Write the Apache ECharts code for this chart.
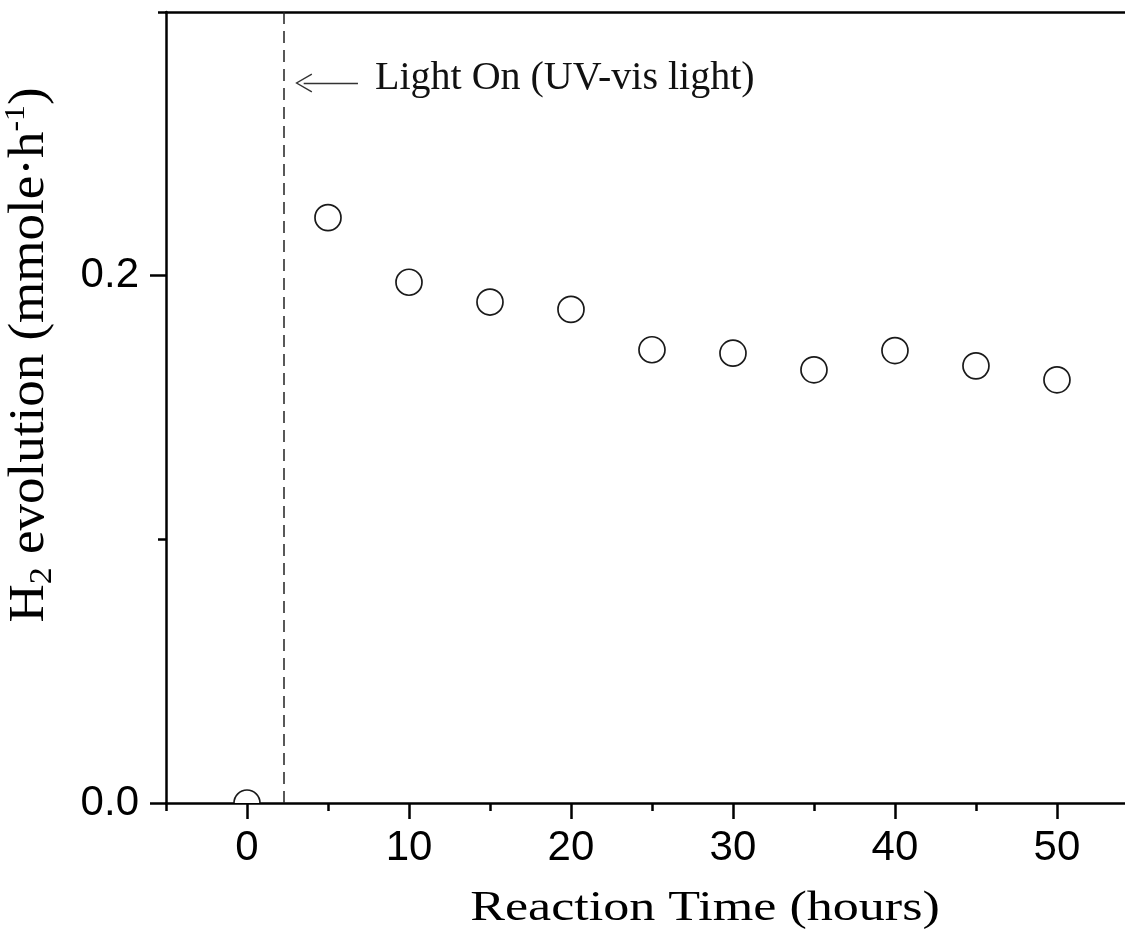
<!DOCTYPE html>
<html>
<head>
<meta charset="utf-8">
<script src="https://cdn.jsdelivr.net/npm/echarts@6/dist/echarts.min.js"></script>
<style>
  html, body { margin: 0; padding: 0; background: #fff; }
  #chart { width: 1125px; height: 943px; }
</style>
</head>
<body>
<div id="chart"></div>
<script>
// Photocatalytic H2 evolution rate over reaction time
const reactionTime = [0, 5, 10, 15, 20, 25, 30, 35, 40, 45, 50];
const h2Evolution = [0, 0.222, 0.1975, 0.190, 0.1872, 0.1719, 0.1706, 0.1643, 0.1716, 0.1658, 0.1605];

// Axis ticks
const xMajorTicks = [0, 10, 20, 30, 40, 50];
const xMinorTicks = [-5, 5, 15, 25, 35, 45];
const yMajorTicks = [0, 0.2];
const yMinorTicks = [0.1, 0.3];

// Annotation: lamp switched on
const lightOnTime = 2.25;
const annotationText = 'Light On (UV-vis light)';
const arrowFrom = [6.85, 0.2731];
const arrowTo = [3.5, 0.2731];

const xTitle = 'Reaction Time (hours)';
const yTitle = 'H{sub|2} evolution (mmole·h{sup|-1})';

const SANS = '"Liberation Sans", Arial, sans-serif';
const SERIF = '"Liberation Serif", "Times New Roman", serif';
const INK = '#000';

const points = reactionTime.map((t, i) => [t, h2Evolution[i]]);

const chart = echarts.init(document.getElementById('chart'), null, { renderer: 'canvas' });

// the frame runs past the right edge of the page
const baseX = {
  type: 'value', min: -5, max: 54.2,
  splitLine: { show: false }
};
const baseY = {
  type: 'value', min: 0, max: 0.3, position: 'left',
  splitLine: { show: false }
};

chart.setOption({
  animation: false,
  backgroundColor: '#fff',
  grid: { left: 166, top: 12, right: 0, bottom: 140 },
  xAxis: [
    Object.assign({}, baseX, {
      position: 'bottom',
      axisLine: { show: true, onZero: false, lineStyle: { color: INK, width: 2.5 } },
      axisTick: { show: true, customValues: xMajorTicks, length: 16, lineStyle: { color: INK, width: 2.5 } },
      axisLabel: {
        customValues: xMajorTicks, margin: 24, color: INK,
        fontFamily: SANS, fontSize: 42
      }
    }),
    Object.assign({}, baseX, {
      position: 'bottom',
      axisLine: { show: false, onZero: false },
      axisTick: { show: true, customValues: xMinorTicks, length: 8, lineStyle: { color: INK, width: 2.5 } },
      axisLabel: { show: false }
    }),
    Object.assign({}, baseX, {
      // top edge of the frame
      position: 'top',
      axisLine: { show: true, onZero: false, lineStyle: { color: INK, width: 2.5 } },
      axisTick: { show: false },
      axisLabel: { show: false }
    })
  ],
  yAxis: [
    Object.assign({}, baseY, {
      axisLine: { show: true, onZero: false, lineStyle: { color: INK, width: 2.5 } },
      axisTick: { show: true, customValues: yMajorTicks, length: 16, lineStyle: { color: INK, width: 2.5 } },
      axisLabel: {
        customValues: yMajorTicks, margin: 27, color: INK,
        fontFamily: SANS, fontSize: 42,
        formatter: v => v.toFixed(1)
      }
    }),
    Object.assign({}, baseY, {
      axisLine: { show: false, onZero: false },
      axisTick: { show: true, customValues: yMinorTicks, length: 8, lineStyle: { color: INK, width: 2.5 } },
      axisLabel: { show: false }
    })
  ],
  series: [
    {
      // hollow circle markers, clipped to the plotting frame
      type: 'custom',
      name: 'H2 evolution',
      xAxisIndex: 0, yAxisIndex: 0,
      clip: true,
      z: 3,
      data: points,
      encode: { x: 0, y: 1 },
      renderItem: (params, api) => {
        const p = api.coord([api.value(0), api.value(1)]);
        return {
          type: 'circle',
          shape: { cx: p[0], cy: p[1], r: 13 },
          style: { fill: '#fff', stroke: '#1a1a1a', lineWidth: 1.7 }
        };
      }
    },
    {
      // carrier for the light-on marker and arrow
      type: 'line',
      xAxisIndex: 0, yAxisIndex: 0,
      data: points,
      symbol: 'none',
      lineStyle: { opacity: 0 },
      silent: true,
      z: 2,
      markLine: {
        silent: true,
        animation: false,
        symbol: ['none', 'none'],
        label: { show: false },
        emphasis: { disabled: true },
        data: [
          {
            xAxis: lightOnTime,
            lineStyle: { color: '#222', width: 1.5, type: [12, 7] }
          },
          [
            { coord: arrowFrom, symbol: 'none', lineStyle: { color: '#333', width: 1.4, type: 'solid' } },
            {
              coord: arrowTo,
              symbol: 'path://M0,0 L9.5,16.3 L8.3,17 L0,2.6 L-8.3,17 L-9.5,16.3 Z',
              symbolSize: [19, 17]
            }
          ]
        ]
      }
    }
  ],
  graphic: [
    {
      type: 'text',
      x: 375, y: 78,
      style: {
        text: annotationText,
        font: '40px ' + SERIF,
        fill: '#111',
        textAlign: 'left',
        textVerticalAlign: 'middle'
      }
    },
    {
      type: 'text',
      x: 705, y: 909,
      scaleX: 1.24,
      style: {
        text: xTitle,
        font: '42px ' + SERIF,
        fill: INK,
        textAlign: 'center',
        textVerticalAlign: 'middle'
      }
    },
    {
      type: 'text',
      x: 30, y: 355,
      rotation: Math.PI / 2,
      scaleX: 1.06,
      style: {
        text: yTitle,
        font: '50px ' + SERIF,
        fill: INK,
        align: 'center',
        verticalAlign: 'middle',
        lineHeight: 58,
        rich: {
          sub: { font: '32px ' + SERIF, fill: INK, lineHeight: 44, verticalAlign: 'bottom' },
          sup: { font: '30px ' + SERIF, fill: INK, lineHeight: 30, verticalAlign: 'top' }
        }
      }
    }
  ]
});
</script>
</body>
</html>
